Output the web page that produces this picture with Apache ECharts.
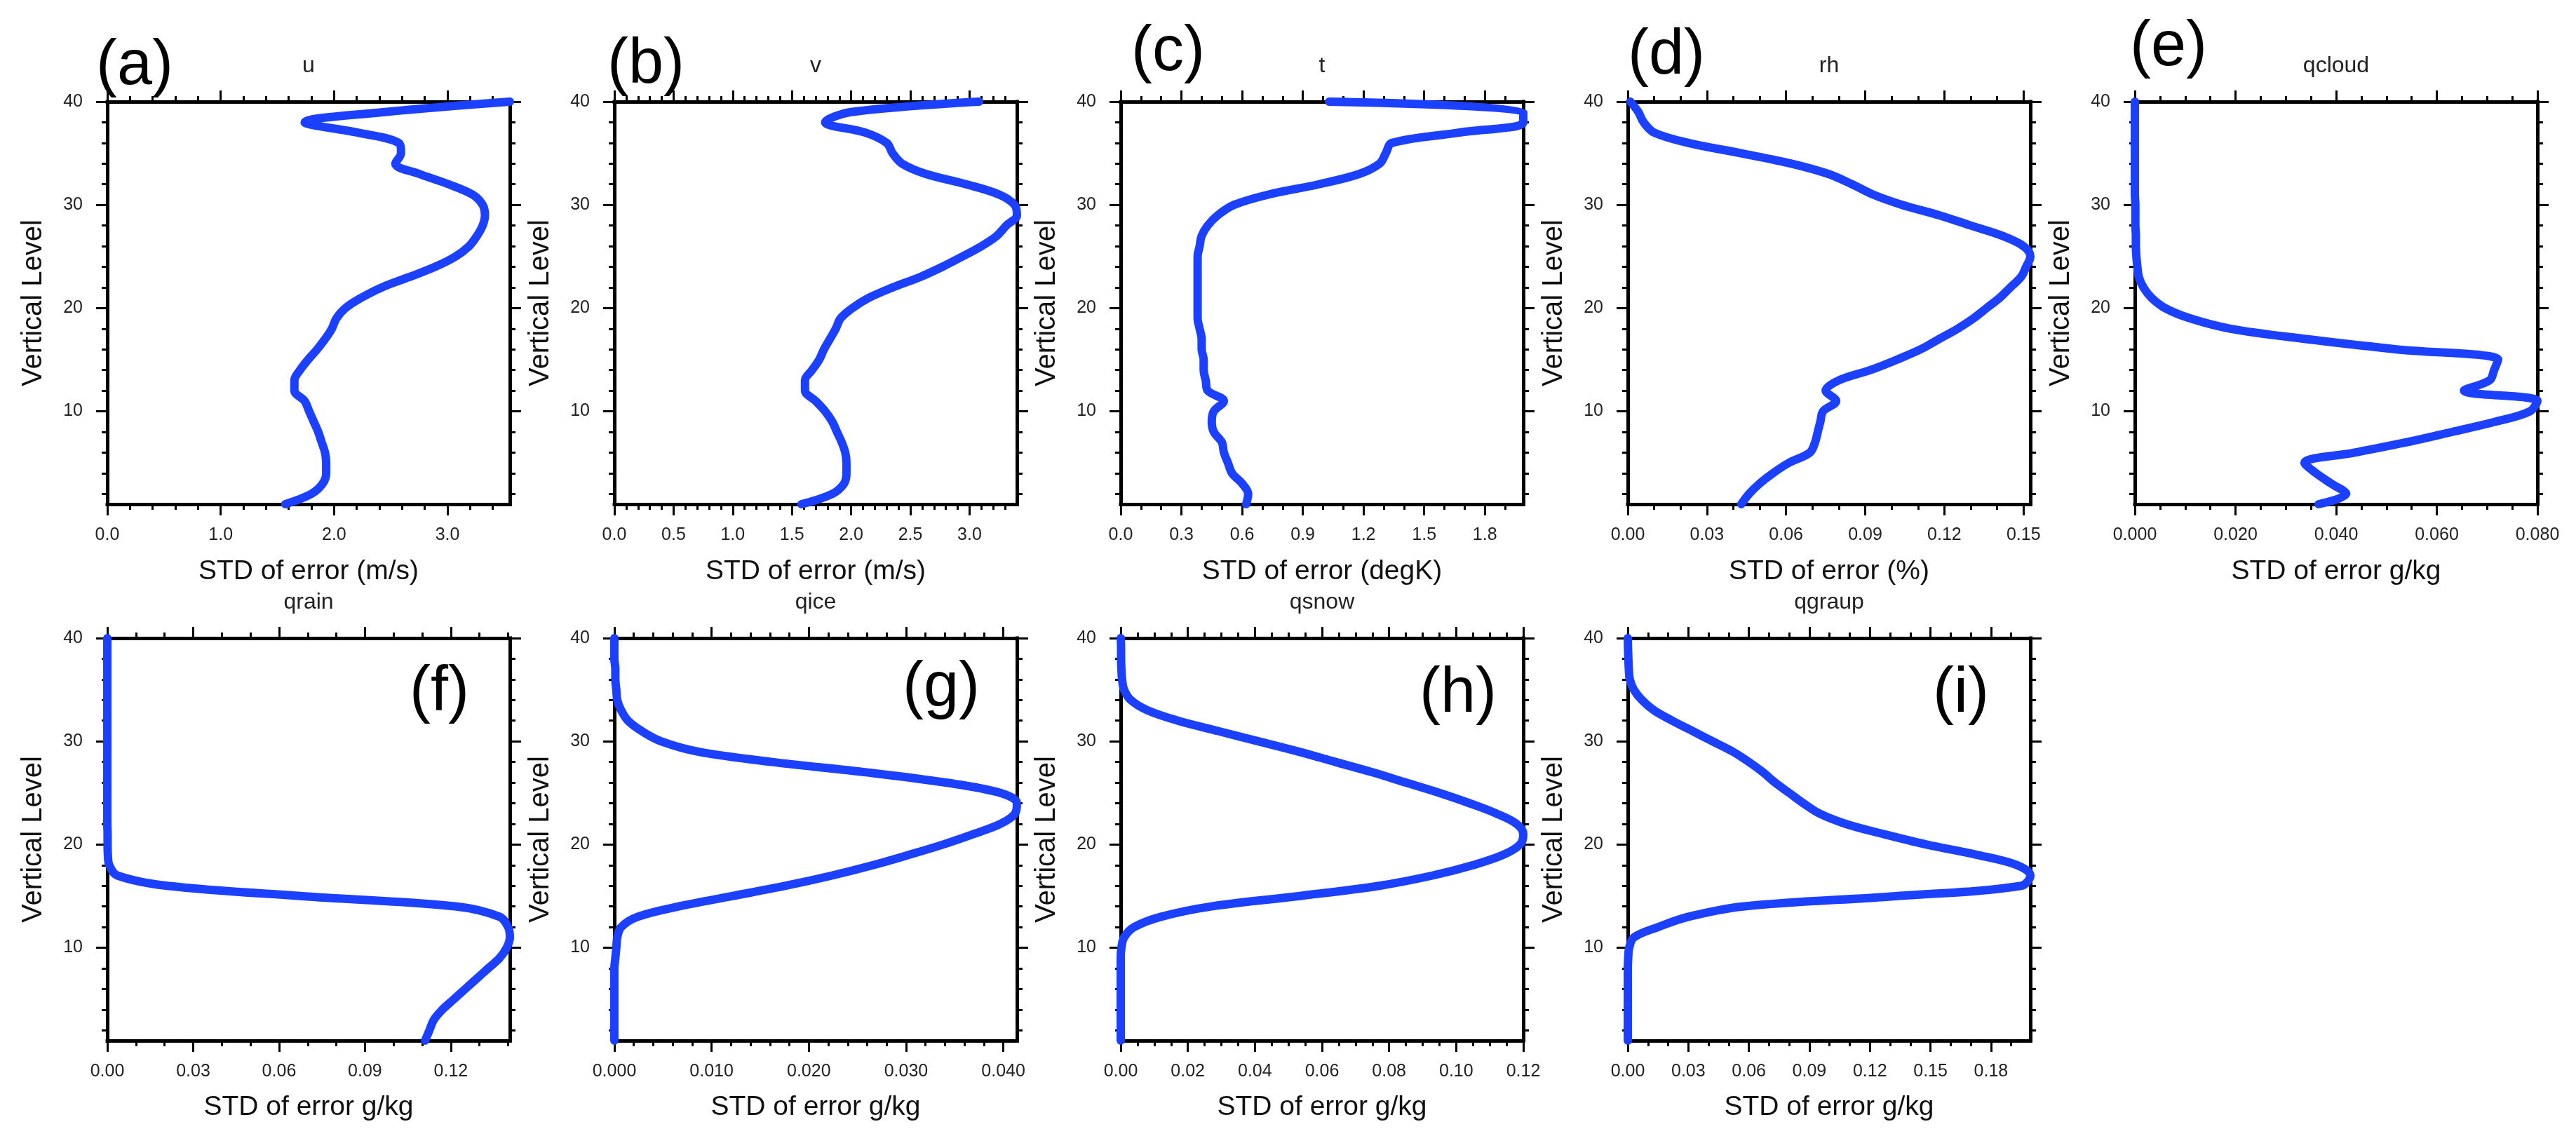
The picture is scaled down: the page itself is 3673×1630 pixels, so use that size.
<!DOCTYPE html>
<html>
<head>
<meta charset="utf-8">
<script src="https://cdn.jsdelivr.net/npm/echarts@6/dist/echarts.min.js"></script>
<style>
  html, body { margin: 0; padding: 0; background: #fff; }
  #chart { width: 3673px; height: 1630px; }
</style>
</head>
<body>
<div id="chart"></div>
<script>
// vertical levels (y) shared by every panel
var levels = [1, 2, 3, 4, 5, 6, 7, 8, 9, 10, 11, 12, 13, 14, 15, 16, 17, 18, 19, 20,
  21, 22, 23, 24, 25, 26, 27, 28, 29, 30, 31, 32, 33, 34, 35, 36, 37, 38, 39, 40];
var levelTicks = [10, 20, 30, 40];
var levelMinorTicks = [2, 4, 6, 8, 12, 14, 16, 18, 22, 24, 26, 28, 32, 34, 36, 38];

// STD of error per level
var uStd = [1.57, 1.80, 1.90, 1.93, 1.93, 1.92, 1.89, 1.86, 1.82, 1.78,
  1.74, 1.65, 1.65, 1.70, 1.77, 1.85, 1.92, 1.98, 2.02, 2.10,
  2.24, 2.42, 2.66, 2.89, 3.07, 3.19, 3.26, 3.31, 3.33, 3.31,
  3.22, 3.01, 2.75, 2.54, 2.59, 2.57, 2.21, 1.74, 2.45, 3.55];
var vStd = [1.58, 1.84, 1.94, 1.96, 1.96, 1.95, 1.92, 1.88, 1.84, 1.78,
  1.70, 1.61, 1.61, 1.67, 1.73, 1.77, 1.82, 1.87, 1.91, 2.01,
  2.15, 2.35, 2.58, 2.77, 2.94, 3.10, 3.23, 3.31, 3.40, 3.38,
  3.25, 2.97, 2.63, 2.43, 2.35, 2.30, 2.12, 1.78, 2.00, 3.08];
var tStd = [0.62, 0.63, 0.60, 0.55, 0.53, 0.51, 0.50, 0.46, 0.45, 0.46,
  0.51, 0.43, 0.42, 0.41, 0.41, 0.40, 0.40, 0.39, 0.38, 0.38,
  0.38, 0.38, 0.38, 0.38, 0.38, 0.39, 0.40, 0.43, 0.48, 0.56,
  0.73, 0.98, 1.18, 1.28, 1.31, 1.34, 1.67, 1.99, 1.99, 1.03];
var rhStd = [0.043, 0.046, 0.050, 0.055, 0.061, 0.069, 0.071, 0.072, 0.073, 0.074,
  0.079, 0.075, 0.080, 0.092, 0.102, 0.111, 0.118, 0.125, 0.131, 0.136,
  0.141, 0.145, 0.149, 0.151, 0.1526, 0.150, 0.142, 0.130, 0.118, 0.104,
  0.093, 0.085, 0.076, 0.062, 0.043, 0.023, 0.010, 0.006, 0.004, 0.001];
var qcloudStd = [0.0365, 0.042, 0.039, 0.036, 0.0337, 0.0437, 0.054, 0.063, 0.0717, 0.0785,
  0.080, 0.0654, 0.0705, 0.0714, 0.0722, 0.052, 0.034, 0.019, 0.011, 0.006,
  0.0033, 0.0017, 0.0008, 0.0005, 0.0003, 0.0002, 0.0002, 0.0001, 0.0001, 0.0001,
  0, 0, 0, 0, 0, 0, 0, 0, 0, 0];
var qrainStd = [0.111, 0.1125, 0.114, 0.117, 0.121, 0.125, 0.129, 0.133, 0.137, 0.1395,
  0.1406, 0.140, 0.137, 0.122, 0.068, 0.021, 0.0035, 0.0007, 0.0002, 0.0001,
  0.0001, 0, 0, 0, 0, 0, 0, 0, 0, 0,
  0, 0, 0, 0, 0, 0, 0, 0, 0, 0];
var qiceStd = [0, 0, 0, 0, 0, 0, 0, 0, 0.0001, 0.0002,
  0.0003, 0.0007, 0.0024, 0.0066, 0.0121, 0.0176, 0.0224, 0.0266, 0.0303, 0.0338,
  0.0369, 0.0397, 0.0412, 0.0414, 0.0397, 0.0341, 0.0259, 0.0162, 0.0086, 0.0048,
  0.0028, 0.0014, 0.0007, 0.0003, 0.0002, 0.0001, 0.0001, 0, 0, 0];
var qsnowStd = [0, 0, 0, 0, 0, 0, 0, 0, 0, 0.0002,
  0.001, 0.004, 0.012, 0.027, 0.053, 0.077, 0.093, 0.105, 0.114, 0.119,
  0.120, 0.118, 0.112, 0.104, 0.095, 0.085, 0.075, 0.064, 0.053, 0.041,
  0.029, 0.017, 0.008, 0.003, 0.001, 0.0004, 0.0002, 0.0001, 0.0001, 0];
var qgraupStd = [0, 0, 0, 0, 0, 0, 0, 0, 0.0002, 0.0007,
  0.003, 0.015, 0.030, 0.057, 0.133, 0.195, 0.1995, 0.193, 0.173, 0.148,
  0.127, 0.108, 0.095, 0.087, 0.080, 0.073, 0.067, 0.060, 0.052, 0.042,
  0.032, 0.022, 0.013, 0.007, 0.003, 0.001, 0.0005, 0.0003, 0.0001, 0];

// x tick labels per panel
var uTicks = [0, 1, 2, 3];
var vTicks = [0, 0.5, 1, 1.5, 2, 2.5, 3];
var tTicks = [0, 0.3, 0.6, 0.9, 1.2, 1.5, 1.8];
var rhTicks = [0, 0.03, 0.06, 0.09, 0.12, 0.15];
var qcloudTicks = [0, 0.02, 0.04, 0.06, 0.08];
var qrainTicks = [0, 0.03, 0.06, 0.09, 0.12];
var qiceTicks = [0, 0.01, 0.02, 0.03, 0.04];
var qsnowTicks = [0, 0.02, 0.04, 0.06, 0.08, 0.10, 0.12];
var qgraupTicks = [0, 0.03, 0.06, 0.09, 0.12, 0.15, 0.18];

var varNames = ['u', 'v', 't', 'rh', 'qcloud', 'qrain', 'qice', 'qsnow', 'qgraup'];
var panelLetters = ['(a)', '(b)', '(c)', '(d)', '(e)', '(f)', '(g)', '(h)', '(i)'];
var xTitles = ['STD of error (m/s)', 'STD of error (m/s)', 'STD of error (degK)', 'STD of error (%)',
  'STD of error g/kg', 'STD of error g/kg', 'STD of error g/kg', 'STD of error g/kg', 'STD of error g/kg'];

var panels = [
  {values: uStd, ticks: uTicks, minor: 0.2, digits: 1},
  {values: vStd, ticks: vTicks, minor: 0.1, digits: 1},
  {values: tStd, ticks: tTicks, minor: 0.1, digits: 1},
  {values: rhStd, ticks: rhTicks, minor: 0.01, digits: 2},
  {values: qcloudStd, ticks: qcloudTicks, minor: 0.005, digits: 3},
  {values: qrainStd, ticks: qrainTicks, minor: 0.01, digits: 2},
  {values: qiceStd, ticks: qiceTicks, minor: 0.002, digits: 3},
  {values: qsnowStd, ticks: qsnowTicks, minor: 0.005, digits: 2},
  {values: qgraupStd, ticks: qgraupTicks, minor: 0.01, digits: 2}
];

// layout (px)
var colLeft = [153, 876, 1598, 2321, 3044];
var rowTop = [145, 910];
var plotW = 574, plotH = 574;
var titleY = [94, 859];
var xNameY = [815, 1579];
var letterPos = [[137, 95], [866, 93], [1613, 75], [2321, 80], [3037, 68],
  [584, 988], [1287, 982], [2024, 990], [2756, 990]];

var FONT = '"Liberation Sans", Arial, Helvetica, sans-serif';
var LINE_BLUE = '#1b40ff';
var axisLineStyle = {color: '#000', width: 5, cap: 'square'};
var tickStyle = {color: '#000', width: 3};

function minorValues(max, step, majors) {
  var out = [];
  for (var k = 1; k * step < max - step * 1e-6; k++) {
    var v = +(k * step).toFixed(6);
    var isMajor = majors.some(function (m) { return Math.abs(m - v) < step * 1e-3; });
    if (!isMajor) out.push(v);
  }
  return out;
}

var grids = [], xAxes = [], yAxes = [], series = [], texts = [];

panels.forEach(function (p, i) {
  var row = i < 5 ? 0 : 1;
  var col = i < 5 ? i : i - 5;
  var left = colLeft[col], top = rowTop[row];
  var xMax = Math.max.apply(null, p.values);
  var xMinor = minorValues(xMax, p.minor, p.ticks);
  var gi = grids.length;

  grids.push({left: left, top: top, width: plotW, height: plotH, containLabel: false});

  var xBase = xAxes.length;
  ['bottom', 'top'].forEach(function (pos) {
    xAxes.push({
      type: 'value', gridIndex: gi, position: pos, min: 0, max: xMax,
      axisLine: {show: true, onZero: false, lineStyle: axisLineStyle},
      axisTick: {show: true, customValues: p.ticks, length: 16, lineStyle: tickStyle},
      axisLabel: pos === 'bottom' ? {
        show: true, customValues: p.ticks, margin: 32, fontSize: 25, color: '#222',
        fontFamily: FONT,
        formatter: function (v) { return v.toFixed(p.digits); }
      } : {show: false},
      splitLine: {show: false}
    });
    xAxes.push({
      type: 'value', gridIndex: gi, position: pos, min: 0, max: xMax,
      axisLine: {show: false, onZero: false},
      axisTick: {show: true, customValues: xMinor, length: 8, lineStyle: tickStyle},
      axisLabel: {show: false},
      splitLine: {show: false}
    });
  });

  var yBase = yAxes.length;
  ['left', 'right'].forEach(function (pos) {
    yAxes.push({
      type: 'value', gridIndex: gi, position: pos, min: 1, max: 40,
      axisLine: {show: true, onZero: false, lineStyle: axisLineStyle},
      axisTick: {show: true, customValues: levelTicks, length: 16, lineStyle: tickStyle},
      axisLabel: pos === 'left' ? {
        show: true, customValues: levelTicks, margin: 35, fontSize: 25, color: '#222',
        fontFamily: FONT
      } : {show: false},
      splitLine: {show: false}
    });
    yAxes.push({
      type: 'value', gridIndex: gi, position: pos, min: 1, max: 40,
      axisLine: {show: false, onZero: false},
      axisTick: {show: true, customValues: levelMinorTicks, length: 8, lineStyle: tickStyle},
      axisLabel: {show: false},
      splitLine: {show: false}
    });
  });

  series.push({
    type: 'line', name: varNames[i], xAxisIndex: xBase, yAxisIndex: yBase,
    data: p.values.map(function (v, k) { return [v, levels[k]]; }),
    symbol: 'none', clip: false, z: 5, smooth: 0.35,
    lineStyle: {color: LINE_BLUE, width: 12, cap: 'round', join: 'round'}
  });

  // texts: panel letter, variable title, x axis title, y axis title
  texts.push({
    type: 'text', x: letterPos[i][0], y: letterPos[i][1],
    style: {text: panelLetters[i], fontSize: 90, fontFamily: FONT, fill: '#000',
      align: 'left', verticalAlign: 'middle', textAlign: 'left', textVerticalAlign: 'middle'}
  });
  texts.push({
    type: 'text', x: left + plotW / 2, y: titleY[row],
    style: {text: varNames[i], fontSize: 32, fontFamily: FONT, fill: '#222',
      align: 'center', verticalAlign: 'middle', textAlign: 'center', textVerticalAlign: 'middle'}
  });
  texts.push({
    type: 'text', x: left + plotW / 2, y: xNameY[row],
    style: {text: xTitles[i], fontSize: 39, fontFamily: FONT, fill: '#111',
      align: 'center', verticalAlign: 'middle', textAlign: 'center', textVerticalAlign: 'middle'}
  });
  texts.push({
    type: 'text', x: left - 105, y: top + plotH / 2, rotation: Math.PI / 2,
    style: {text: 'Vertical Level', fontSize: 40, fontFamily: FONT, fill: '#111',
      align: 'center', verticalAlign: 'middle', textAlign: 'center', textVerticalAlign: 'middle'}
  });
});

var chart = echarts.init(document.getElementById('chart'));
chart.setOption({
  animation: false,
  backgroundColor: '#fff',
  grid: grids,
  xAxis: xAxes,
  yAxis: yAxes,
  series: series,
  graphic: {elements: texts}
});
</script>
</body>
</html>
